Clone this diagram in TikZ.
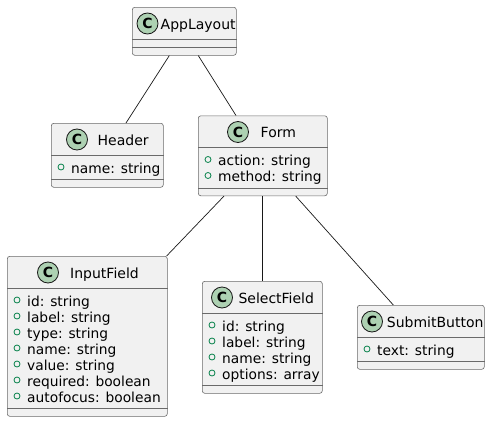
\documentclass[tikz,border=0pt]{standalone}
\usepackage{fontspec}
\setmainfont{DejaVu Sans}
\usetikzlibrary{calc}
\definecolor{umlborder}{HTML}{181818}
\definecolor{umlframe}{HTML}{6A6A6A}
\definecolor{umlfill}{HTML}{F1F1F1}
\definecolor{badgegreen}{HTML}{ADD1B2}
\definecolor{attrgreen}{HTML}{038048}
\tikzset{
  clsbox/.style={draw=umlframe, fill=umlfill, line width=0.6pt, rounded corners=2.5pt, inner sep=0pt},
  sepline/.style={draw=umlframe, line width=0.6pt},
  cbadge/.style={circle, draw=umlborder, line width=0.8pt, fill=badgegreen, minimum size=21pt, inner sep=0pt, font=\fontsize{14}{14}\selectfont\bfseries},
  clstitle/.style={anchor=base west, inner sep=0pt, font=\fontsize{14}{16}\selectfont},
  attrdot/.style={circle, draw=attrgreen, line width=0.8pt, minimum size=6pt, inner sep=0pt},
  attrtext/.style={anchor=base west, inner sep=0pt, font=\fontsize{13.8}{16}\selectfont},
  assoc/.style={draw=umlborder, line width=0.7pt},
}
% #1 id, #2 x, #3 y, #4 w, #5 h, #6 badge dx, #7 title dx, #8 title
\newcommand\umlcls[8]{%
  \node[clsbox, minimum width=#4pt, minimum height=#5pt, anchor=north west] (#1) at (#2,#3) {};
  \draw[sepline] ([yshift=-32pt]#1.north west) -- ([yshift=-32pt]#1.north east);
  \draw[sepline] ([yshift=8pt]#1.south west) -- ([yshift=8pt]#1.south east);
  \node[cbadge] (#1-c) at ([xshift=#6pt, yshift=-16.5pt]#1.north west) {C};
  \node[clstitle] (#1-t) at ([xshift=#7pt, yshift=-22pt]#1.north west) {#8};
}
\newcommand\umlattrs[2]{%
  \foreach \atxt [count=\i from 0] in {#2} {
    \node[attrdot] (#1-d\i) at ([xshift=10pt, yshift={-44pt-16pt*\i}]#1.north west) {};
    \node[attrtext] (#1-a\i) at ([xshift=20pt, yshift={-50pt-16pt*\i}]#1.north west) {\atxt};
  }%
}
\begin{document}
\begin{tikzpicture}[x=1pt, y=-1pt]
  \useasboundingbox (0,0) rectangle (490,423);

  \umlcls{app}{132}{7}{104}{48}{15.5}{28.5}{AppLayout}
  \umlcls{header}{51}{123}{112}{64}{26}{46.5}{Header}
  \umlattrs{header}{name: string}
  \umlcls{form}{198}{115.5}{129}{80}{40}{62.5}{Form}
  \umlattrs{form}{action: string, method: string}
  \umlcls{input}{7}{256}{160}{160}{41}{63}{InputField}
  \umlattrs{input}{id: string, label: string, type: string, name: string, value: string, required: boolean, autofocus: boolean}
  \umlcls{select}{202}{281}{120}{112}{20}{36.3}{SelectField}
  \umlattrs{select}{id: string, label: string, name: string, options: array}
  \umlcls{submit}{357}{305}{127}{64}{15}{29.7}{SubmitButton}
  \umlattrs{submit}{text: string}

  \draw[assoc] ([xshift=37.3pt]app.south west) -- ([xshift=75pt]header.north west);
  \draw[assoc] ([xshift=66.3pt]app.south west) -- ([xshift=38pt]form.north west);
  \draw[assoc] ([xshift=26pt]form.south west) -- ([xshift=-1pt]input.north east);
  \draw[assoc] ([xshift=64.7pt]form.south west) -- ([xshift=60.7pt]select.north west);
  \draw[assoc] ([xshift=97.7pt]form.south west) -- ([xshift=36.3pt]submit.north west);
\end{tikzpicture}
\end{document}
